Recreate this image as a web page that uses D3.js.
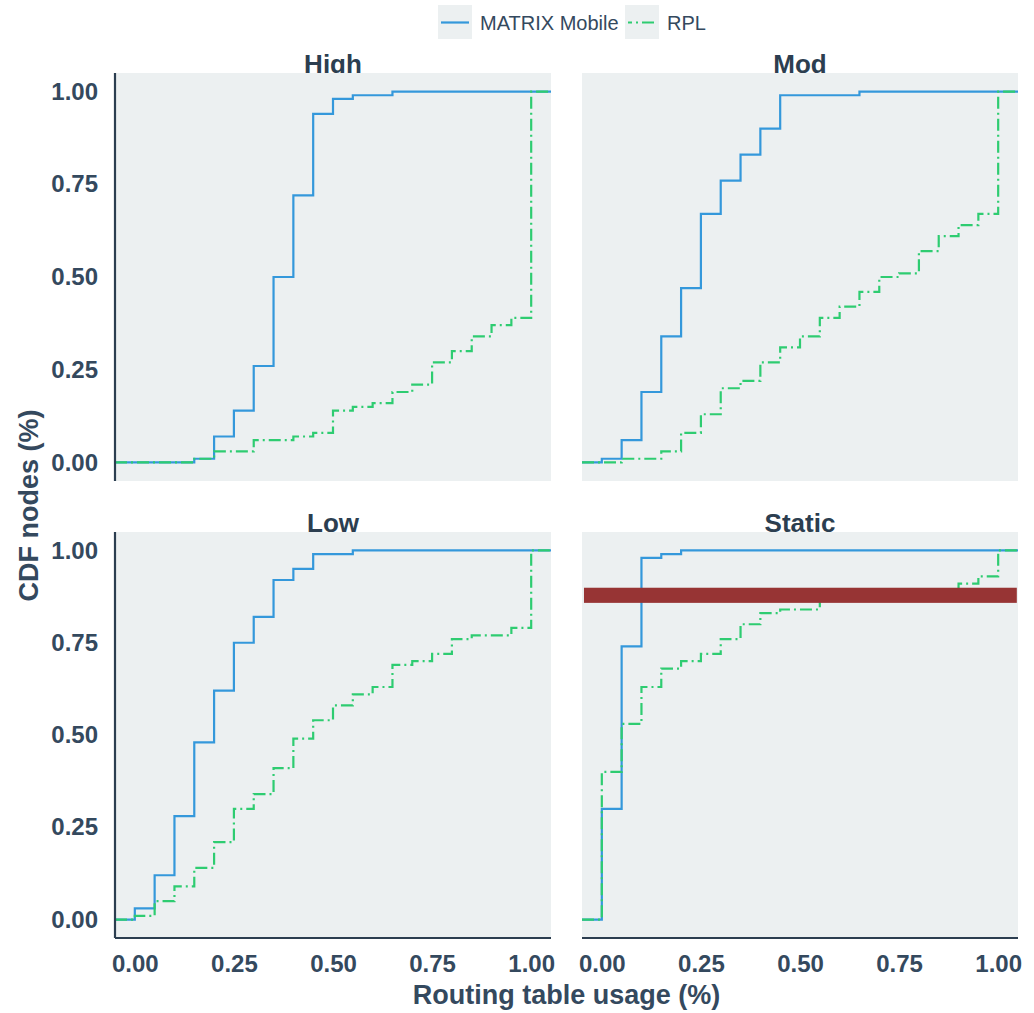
<!DOCTYPE html>
<html>
<head>
<meta charset="utf-8">
<script src="https://cdn.jsdelivr.net/npm/d3@7"></script>
<style>
  html, body { margin: 0; padding: 0; background: #ffffff; }
  svg { display: block; }
  text { font-family: "Liberation Sans", Arial, Helvetica, sans-serif; }
</style>
</head>
<body>
<svg id="chart" width="1034" height="1013"></svg>
<script>
// ---------------- DATA ----------------
const panels = ["High", "Mod", "Low", "Static"];
const seriesNames = ["MATRIX Mobile", "RPL"];
// step locations (routing table usage) shared by every ECDF
const usageGrid = [0.00, 0.05, 0.10, 0.15, 0.20, 0.25, 0.30, 0.35, 0.40, 0.45, 0.50,
                   0.55, 0.60, 0.65, 0.70, 0.75, 0.80, 0.85, 0.90, 0.95, 1.00];
// cumulative share of nodes at each grid point
const highMatrix   = [0.00, 0.00, 0.00, 0.01, 0.07, 0.14, 0.26, 0.50, 0.72, 0.94, 0.98,
                      0.99, 0.99, 1.00, 1.00, 1.00, 1.00, 1.00, 1.00, 1.00, 1.00];
const highRpl      = [0.00, 0.00, 0.00, 0.01, 0.03, 0.03, 0.06, 0.06, 0.07, 0.08, 0.14,
                      0.15, 0.16, 0.19, 0.21, 0.27, 0.30, 0.34, 0.37, 0.39, 1.00];
const modMatrix    = [0.01, 0.06, 0.19, 0.34, 0.47, 0.67, 0.76, 0.83, 0.90, 0.99, 0.99,
                      0.99, 0.99, 1.00, 1.00, 1.00, 1.00, 1.00, 1.00, 1.00, 1.00];
const modRpl       = [0.00, 0.01, 0.01, 0.03, 0.08, 0.13, 0.20, 0.22, 0.27, 0.31, 0.34,
                      0.39, 0.42, 0.46, 0.50, 0.51, 0.57, 0.61, 0.64, 0.67, 1.00];
const lowMatrix    = [0.03, 0.12, 0.28, 0.48, 0.62, 0.75, 0.82, 0.92, 0.95, 0.99, 0.99,
                      1.00, 1.00, 1.00, 1.00, 1.00, 1.00, 1.00, 1.00, 1.00, 1.00];
const lowRpl       = [0.01, 0.05, 0.09, 0.14, 0.21, 0.30, 0.34, 0.41, 0.49, 0.54, 0.58,
                      0.61, 0.63, 0.69, 0.70, 0.72, 0.76, 0.77, 0.77, 0.79, 1.00];
const staticMatrix = [0.30, 0.74, 0.98, 0.99, 1.00, 1.00, 1.00, 1.00, 1.00, 1.00, 1.00,
                      1.00, 1.00, 1.00, 1.00, 1.00, 1.00, 1.00, 1.00, 1.00, 1.00];
const staticRpl    = [0.40, 0.53, 0.63, 0.68, 0.70, 0.72, 0.76, 0.80, 0.83, 0.84, 0.84,
                      0.87, 0.87, 0.88, 0.88, 0.88, 0.89, 0.89, 0.91, 0.93, 1.00];
const xTicks = [0, 0.25, 0.5, 0.75, 1];
const yTicks = [0, 0.25, 0.5, 0.75, 1];
// redaction band drawn over the Static panel (data units)
const redactBand = { panel: "Static", x0: -0.045, x1: 1.047, y0: 0.858, y1: 0.899 };

const panelSeries = {
  High:   [highMatrix, highRpl],
  Mod:    [modMatrix, modRpl],
  Low:    [lowMatrix, lowRpl],
  Static: [staticMatrix, staticRpl]
};

// ---------------- LAYOUT ----------------
const svg = d3.select("#chart");
const textColor = "#34495e";
const panelBg = "#ecf0f1";
const colors = ["#3498db", "#2ecc71"];
const dashes = [null, "12,4,2,4"];
const cols = [[115, 551], [582, 1018]];
const rows = [[73, 481], [532, 938]];
const domain = [-0.05, 1.05];

panels.forEach((name, i) => {
  const c = i % 2, r = Math.floor(i / 2);
  const x = d3.scaleLinear().domain(domain).range(cols[c]);
  const y = d3.scaleLinear().domain(domain).range([rows[r][1], rows[r][0]]);
  const g = svg.append("g");

  // strip title (sits just under the panel top; panel background is painted over it)
  g.append("text")
    .attr("x", (cols[c][0] + cols[c][1]) / 2)
    .attr("y", rows[r][0] - 0.5)
    .attr("text-anchor", "middle")
    .attr("font-size", 26).attr("font-weight", "bold")
    .attr("fill", "#2c3e50")
    .text(name);

  g.append("rect")
    .attr("x", cols[c][0]).attr("y", rows[r][0])
    .attr("width", cols[c][1] - cols[c][0])
    .attr("height", rows[r][1] - rows[r][0])
    .attr("fill", panelBg);

  const line = d3.line()
    .x(d => x(d[0])).y(d => y(d[1]))
    .curve(d3.curveStepAfter);

  panelSeries[name].forEach((vals, s) => {
    const pts = [[domain[0], 0]].concat(usageGrid.map((u, k) => [u, vals[k]]));
    pts.push([domain[1], vals[vals.length - 1]]);
    g.append("path")
      .attr("d", line(pts))
      .attr("fill", "none")
      .attr("stroke", colors[s])
      .attr("stroke-width", 2.2)
      .attr("stroke-dasharray", dashes[s]);
  });

  if (name === redactBand.panel) {
    g.append("rect")
      .attr("x", x(redactBand.x0)).attr("y", y(redactBand.y1))
      .attr("width", x(redactBand.x1) - x(redactBand.x0))
      .attr("height", y(redactBand.y0) - y(redactBand.y1))
      .attr("fill", "#973434");
  }

  // y axis (left column only)
  if (c === 0) {
    const ya = d3.axisLeft(y).tickValues(yTicks).tickFormat(d3.format(".2f")).tickSize(0).tickPadding(17);
    const ag = g.append("g").attr("transform", `translate(${cols[c][0]},0)`).call(ya);
    ag.select(".domain").attr("stroke", "#2c3e50").attr("stroke-width", 2.2)
      .attr("d", `M0,${rows[r][0]}V${rows[r][1]}`);
    ag.selectAll("text").attr("font-size", 24).attr("font-weight", "bold")
      .attr("fill", textColor).attr("font-family", "Liberation Sans, Arial, sans-serif");
  }
  // x axis (bottom row only)
  if (r === 1) {
    const xa = d3.axisBottom(x).tickValues(xTicks).tickFormat(d3.format(".2f")).tickSize(0).tickPadding(17);
    const ag = g.append("g").attr("transform", `translate(0,${rows[r][1]})`).call(xa);
    ag.select(".domain").attr("stroke", "#2c3e50").attr("stroke-width", 2.2)
      .attr("d", `M${cols[c][0]},0H${cols[c][1]}`);
    ag.selectAll("text").attr("font-size", 24).attr("font-weight", "bold")
      .attr("fill", textColor).attr("font-family", "Liberation Sans, Arial, sans-serif");
  }
});

// axis titles
svg.append("text")
  .attr("transform", `translate(38,505.5) rotate(-90)`)
  .attr("text-anchor", "middle")
  .attr("font-size", 27).attr("font-weight", "bold")
  .attr("fill", textColor)
  .text("CDF nodes (%)");
svg.append("text")
  .attr("x", 566.5).attr("y", 1004)
  .attr("text-anchor", "middle")
  .attr("font-size", 27).attr("font-weight", "bold")
  .attr("fill", textColor)
  .text("Routing table usage (%)");

// legend
const legendX = [438, 625];
const legendTextX = [480, 667];
seriesNames.forEach((nm, s) => {
  const lg = svg.append("g");
  lg.append("rect").attr("x", legendX[s]).attr("y", 5).attr("width", 34).attr("height", 34).attr("fill", panelBg);
  lg.append("line")
    .attr("x1", legendX[s] + 3).attr("x2", legendX[s] + 31)
    .attr("y1", 22.5).attr("y2", 22.5)
    .attr("stroke", colors[s]).attr("stroke-width", 2.2)
    .attr("stroke-dasharray", dashes[s])
    .attr("stroke-dashoffset", s === 1 ? 8 : null);
  lg.append("text")
    .attr("x", legendTextX[s]).attr("y", 22.5).attr("dy", "0.35em")
    .attr("font-size", 20).attr("fill", textColor)
    .text(nm);
});
</script>
</body>
</html>
